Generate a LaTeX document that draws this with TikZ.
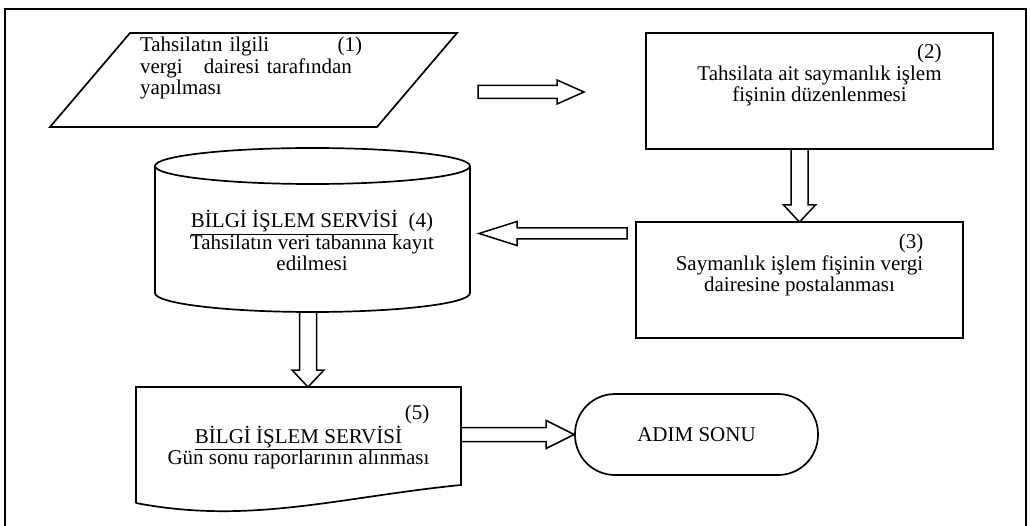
\documentclass[tikz,border=0pt]{standalone}
\usepackage{fontspec}
\setmainfont{Liberation Serif}
\usetikzlibrary{calc}
\newcommand{\flowfont}{\fontsize{21}{21.5}\selectfont}
\tikzset{
  outline/.style={draw, line width=1.7pt},
  holder/.style={inner sep=0pt, outer sep=0pt},
  txt/.style={font=\flowfont, inner sep=0pt},
  % hollow block arrow: #1 shaft half width, #2 head half width, #3 head length
  blockarrow/.style n args={3}{outline, line width=1.5pt, to path={
    let \p1=(\tikztostart), \p2=(\tikztotarget),
        \n1={veclen(\x2-\x1,\y2-\y1)},
        \n2={(\x2-\x1)/\n1}, \n3={(\y2-\y1)/\n1} in
    ($(\p1)+({-#1*(\n3)*1pt},{#1*(\n2)*1pt})$)
    -- ($(\p2)+({(-#3*(\n2)-#1*(\n3))*1pt},{(-#3*(\n3)+#1*(\n2))*1pt})$)
    -- ($(\p2)+({(-#3*(\n2)-#2*(\n3))*1pt},{(-#3*(\n3)+#2*(\n2))*1pt})$)
    -- (\p2)
    -- ($(\p2)+({(-#3*(\n2)+#2*(\n3))*1pt},{(-#3*(\n3)-#2*(\n2))*1pt})$)
    -- ($(\p2)+({(-#3*(\n2)+#1*(\n3))*1pt},{(-#3*(\n3)-#1*(\n2))*1pt})$)
    -- ($(\p1)+({#1*(\n3)*1pt},{-#1*(\n2)*1pt})$)
    -- cycle}},
}
\begin{document}
\begin{tikzpicture}[x=1pt, y=-1pt]
\useasboundingbox (0,0) rectangle (1030,526);

% page frame
\draw[outline] (5,526) -- (5,9) -- (1026,9) -- (1026,526);

% (1) input parallelogram
\node[holder, minimum width=327pt, minimum height=94pt] (b1) at (253.5,80) {};
\draw[outline] ($(b1.south west)+(-40,0)$) -- ($(b1.north west)+(40,0)$)
  -- ($(b1.north east)+(40,0)$) -- ($(b1.south east)+(-40,0)$) -- cycle;
\node[txt, text width=222pt, align=left] (t1) at (251,68)
  {Tahsilatın ilgili\hfill(1)\\vergi\ \ \ dairesi tarafından\\yapılması};

% (2) process box
\node[outline, holder, minimum width=347pt, minimum height=116pt] (b2) at (819.5,91) {};
\node[txt] (t2) at (819.5,76) {\begin{tabular}{@{}c@{}}\hfill(2)\hspace{17pt}\\
  Tahsilata ait saymanlık işlem\\ fişinin düzenlenmesi\end{tabular}};

% (3) process box
\node[outline, holder, minimum width=327pt, minimum height=116pt] (b3) at (799.5,280) {};
\node[txt] (t3) at (799.5,266) {\begin{tabular}{@{}c@{}}\hfill(3)\hspace{2pt}\\
  Saymanlık işlem fişinin vergi\\ dairesine postalanması\end{tabular}};

% (4) database cylinder
\node[holder, minimum width=315pt, minimum height=127pt] (cyl) at (312.5,229.5) {};
\draw[outline] (cyl.north) ellipse [x radius=157.5pt, y radius=18pt];
\draw[outline] (cyl.north west) -- (cyl.south west)
  arc[start angle=180, end angle=360, x radius=157.5pt, y radius=19pt] -- (cyl.north east);
\node[txt] (t4) at (312,244) {\begin{tabular}{@{}c@{}}\underline{BİLGİ İŞLEM SERVİSİ}\ \ (4)\\
  Tahsilatın veri tabanına kayıt\\ edilmesi\end{tabular}};

% (5) document shape
\node[holder, minimum width=325pt, minimum height=116pt] (b5) at (298.5,445) {};
\draw[outline] (b5.south west) -- (b5.north west) -- (b5.north east) -- (461,485)
  .. controls (340,497) and (250,525) .. (b5.south west);
\node[txt] (t5) at (298.5,438) {\begin{tabular}{@{}c@{}}\hfill(5)\hspace{32pt}\\
  \underline{BİLGİ İŞLEM SERVİSİ}\\ Gün sonu raporlarının alınması\end{tabular}};

% terminator
\node[outline, rounded corners=40pt, minimum width=243pt, minimum height=81pt,
  font=\flowfont] (term) at (696.5,434.5) {ADIM SONU};

% connectors
\coordinate (a1s) at (478,92);
\coordinate (a1e) at (584,92);
\draw[blockarrow={6.5}{12}{27}] (a1s) to (a1e);
\coordinate (a2s) at (b3.north |- b2.south);
\draw[blockarrow={8.5}{16}{17}] (a2s) to (b3.north);
\coordinate (a3s) at (627,233.5);
\coordinate (a3e) at (479,233.5);
\draw[blockarrow={5.5}{12}{38}] (a3s) to (a3e);
\coordinate (a4s) at (308,312);
\draw[blockarrow={8.5}{16}{17}] (a4s) to (a4s |- b5.north);
\draw[blockarrow={7}{14}{28}] (b5.east |- term.west) to (term.west);
\end{tikzpicture}
\end{document}
